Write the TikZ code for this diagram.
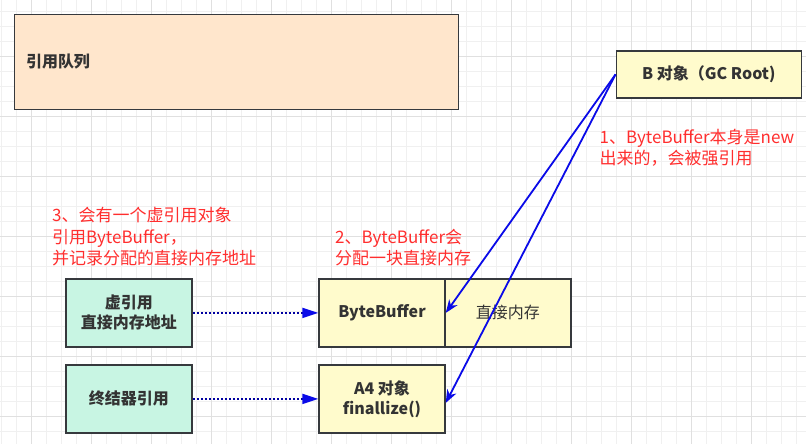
\documentclass[tikz,border=0pt]{standalone}
\usepackage{fontspec}
\setmainfont{Noto Sans CJK SC}
\usepackage{tikz}
\usetikzlibrary{arrows.meta}
\definecolor{queuefill}{HTML}{FFE6CC}
\definecolor{objfill}{HTML}{FFFBCC}
\definecolor{reffill}{HTML}{C8F5E3}
\definecolor{boxline}{HTML}{36393D}
\definecolor{textgray}{HTML}{333333}
\definecolor{notered}{HTML}{FF2E2E}
\definecolor{linkblue}{HTML}{0A0AE8}
\definecolor{dotnavy}{HTML}{0000A0}
\definecolor{gridminor}{HTML}{F0F0F0}
\definecolor{gridmajor}{HTML}{E0E0E0}
\tikzset{
	cell/.style={draw=boxline, line width=1.5pt, text=textgray, align=center, inner sep=2pt,
		font=\fontsize{16}{20}\selectfont\bfseries},
	refcell/.style={cell, fill=reffill, minimum width=126.3pt, minimum height=67.7pt},
	objcell/.style={cell, fill=objfill, minimum width=126pt, minimum height=67.7pt},
	note/.style={text=notered, align=left, inner sep=0pt, anchor=base west,
		font=\fontsize{17}{21.7}\selectfont},
	strongref/.style={draw=linkblue, line width=1.8pt, -{Stealth[length=13pt, width=10pt, inset=4pt]}},
	weakref/.style={draw=dotnavy, line width=2pt, dash pattern=on 2pt off 2pt,
		-{Triangle[length=16pt, width=10pt, fill=linkblue, color=linkblue]}}
}
\begin{document}
\begin{tikzpicture}[x=1pt, y=-1pt]
	% Canvas and grid:
	\useasboundingbox[fill=white] (0, 0) rectangle (806, 444);
	\foreach \gx in {1.7, 16.7, ..., 800} \draw[gridminor, line width=1pt] (\gx, 0) -- (\gx, 444);
	\foreach \gy in {11.7, 26.7, ..., 440} \draw[gridminor, line width=1pt] (0, \gy) -- (806, \gy);
	\foreach \gx in {31.7, 91.7, ..., 800} \draw[gridmajor, line width=1pt] (\gx, 0) -- (\gx, 444);
	\foreach \gy in {56.7, 116.7, ..., 440} \draw[gridmajor, line width=1pt] (0, \gy) -- (806, \gy);
	% Boxes:
	\node[cell, fill=queuefill, align=left, text width=421pt, inner xsep=11.3pt, minimum height=94.6pt](queue) at (236.5, 62){引用队列};
	\node[cell, fill=objfill, minimum width=185pt, minimum height=46.7pt](broot) at (708.8, 74.4){B 对象（GC Root)};
	\node[refcell](phantom) at (128.9, 312.9){虚引用\\直接内存地址};
	\node[refcell](finalref) at (128.9, 398.9){终结器引用};
	\node[objcell](bbuf) at (382, 312.9){ByteBuffer};
	\node[objcell, font=\fontsize{16}{20}\selectfont](dmem) at (507.8, 312.9){直接内存};
	\node[objcell](afour) at (382, 398.9){A4 对象\\finallize()};
	% Notes (anchored at the baseline of their last line):
	\node[note](noteone) at (599.5, 164.9){1、ByteBuffer本身是new\\出来的，会被强引用};
	\node[note](notetwo) at (335, 264.9){2、ByteBuffer会\\分配一块直接内存};
	\node[note](notethree) at (52, 264.9){3、会有一个虚引用对象\\引用ByteBuffer，\\并记录分配的直接内存地址};
	% Links:
	\draw[weakref] (phantom.east) -- (bbuf.west);
	\draw[weakref] (finalref.east) -- (afour.west);
	\draw[strongref] (broot.west) -- (bbuf.east);
	\draw[strongref] (broot.west) -- ([yshift=-4pt]afour.east);
\end{tikzpicture}
\end{document}
